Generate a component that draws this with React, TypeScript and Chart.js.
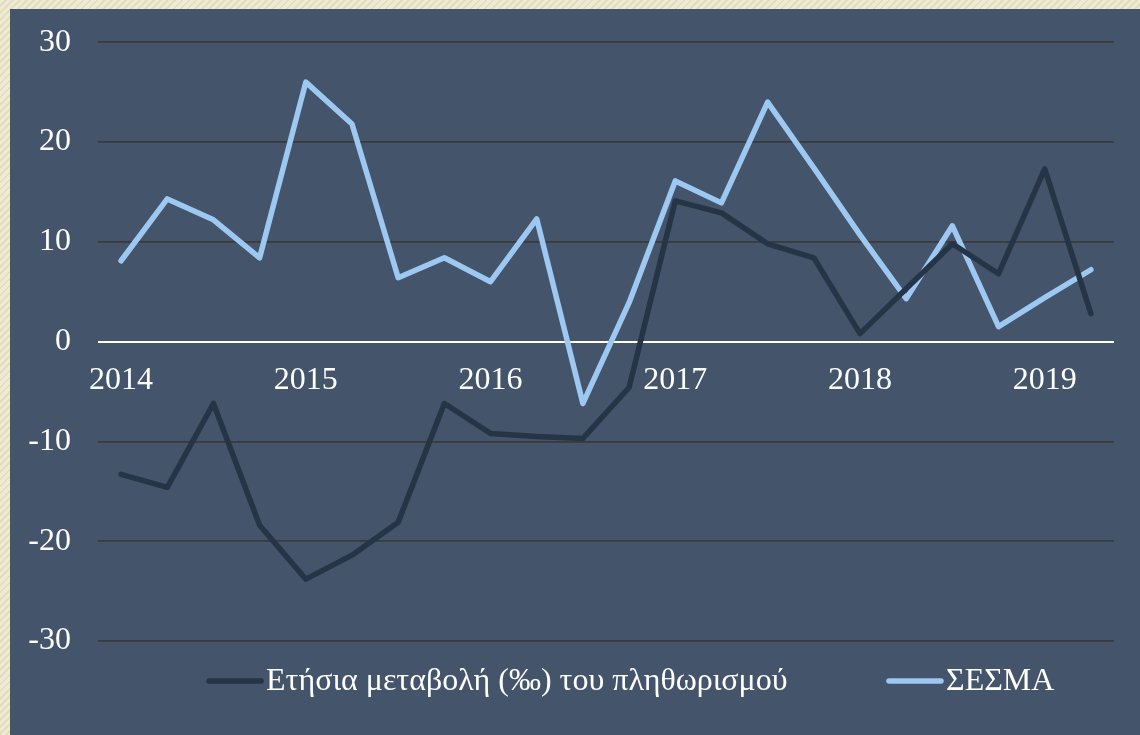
import React, { useEffect, useRef } from "react";
import { Chart, registerables } from "chart.js";

Chart.register(...registerables);

const quarters = [
  "2014 Q1", "2014 Q2", "2014 Q3", "2014 Q4",
  "2015 Q1", "2015 Q2", "2015 Q3", "2015 Q4",
  "2016 Q1", "2016 Q2", "2016 Q3", "2016 Q4",
  "2017 Q1", "2017 Q2", "2017 Q3", "2017 Q4",
  "2018 Q1", "2018 Q2", "2018 Q3", "2018 Q4",
  "2019 Q1", "2019 Q2",
];
const yearTickLabels = [
  "2014", "", "", "",
  "2015", "", "", "",
  "2016", "", "", "",
  "2017", "", "", "",
  "2018", "", "", "",
  "2019", "",
];
const inflationChange = [
  -13.3, -14.6, -6.2, -18.4, -23.8, -21.4, -18.1, -6.2, -9.2, -9.5, -9.7,
  -4.6, 14.1, 12.9, 9.8, 8.4, 0.8, 5.3, 9.8, 6.8, 17.3, 2.8,
];
const sesma = [
  8.1, 14.3, 12.2, 8.4, 26.0, 21.8, 6.4, 8.4, 6.0, 12.3, -6.2, 3.9, 16.1, 13.9,
  24.0, 17.4, 10.7, 4.3, 11.6, 1.5, 4.4, 7.2,
];
const yTicks = [-30, -20, -10, 0, 10, 20, 30];
const seriesNames = ["Ετήσια μεταβολή (‰) του πληθωρισμού", "ΣΕΣΜΑ"];

const DARK = "#253545";
const LIGHT = "#9DC8F2";
const PANEL = "#44546A";
const FONT = "'Liberation Serif', 'DejaVu Serif', serif";
const FONT_SIZE = 32;
const SHIFT = 13;

const legendPlugin = {
  id: "customLegend",
  afterDraw(chart: any) {
    const ctx = chart.ctx;
    const y = 672 + SHIFT;
    const items = [
      { x: 197, color: DARK, text: seriesNames[0] },
      { x: 877, color: LIGHT, text: seriesNames[1] },
    ];
    ctx.save();
    ctx.font = `${FONT_SIZE}px ${FONT}`;
    ctx.textBaseline = "middle";
    ctx.textAlign = "left";
    items.forEach((it) => {
      ctx.strokeStyle = it.color;
      ctx.lineWidth = 5.5;
      ctx.lineCap = "round";
      ctx.beginPath();
      ctx.moveTo(it.x + 2, y);
      ctx.lineTo(it.x + 54, y);
      ctx.stroke();
      ctx.fillStyle = "#ffffff";
      ctx.fillText(it.text, it.x + 59, y + 1);
    });
    ctx.restore();
  },
};

export default function App() {
  const ref = useRef<HTMLCanvasElement | null>(null);

  useEffect(() => {
    if (!ref.current) return;
    const chart = new Chart(ref.current, {
      type: "line",
      data: {
        labels: yearTickLabels,
        datasets: [
          {
            label: seriesNames[0],
            data: inflationChange,
            borderColor: DARK,
            backgroundColor: DARK,
            borderWidth: 5.5,
            pointRadius: 0,
            tension: 0,
            borderCapStyle: "round",
            borderJoinStyle: "round",
          },
          {
            label: seriesNames[1],
            data: sesma,
            borderColor: LIGHT,
            backgroundColor: LIGHT,
            borderWidth: 5.5,
            pointRadius: 0,
            tension: 0,
            borderCapStyle: "round",
            borderJoinStyle: "round",
          },
        ],
      },
      options: {
        animation: false,
        responsive: false,
        maintainAspectRatio: false,
        layout: { padding: { left: 0, right: 26, top: 19, bottom: 94 } },
        plugins: {
          legend: { display: false },
          tooltip: { enabled: false },
        },
        scales: {
          x: {
            type: "category",
            position: { y: 0 } as any,
            offset: true,
            grid: { display: false, drawTicks: false },
            border: { display: false },
            ticks: {
              autoSkip: false,
              maxRotation: 0,
              minRotation: 0,
              padding: 20,
              color: "#ffffff",
              font: { family: FONT, size: FONT_SIZE },
            },
          },
          y: {
            min: -30,
            max: 30,
            afterFit(scale: any) {
              scale.width = 88;
            },
            afterBuildTicks(scale: any) {
              scale.ticks = yTicks.map((v) => ({ value: v }));
            },
            grid: {
              drawTicks: false,
              lineWidth: (c: any) => (c.tick && c.tick.value === 0 ? 2 : 1.8),
              color: (c: any) =>
                c.tick && c.tick.value === 0 ? "#ffffff" : "#3a3a3a",
            },
            border: { display: false },
            ticks: {
              padding: 27,
              color: "#ffffff",
              font: { family: FONT, size: FONT_SIZE },
            },
          },
        },
      },
      plugins: [legendPlugin],
    });
    return () => chart.destroy();
  }, []);

  return (
    <div
      style={{
        position: "fixed",
        left: 0,
        top: 0,
        width: 1140,
        height: 735,
        background:
          "repeating-linear-gradient(135deg, #EFEBD3 0px, #EFEBD3 3px, #E3DDBF 3px, #E3DDBF 5px)",
      }}
    >
      <div
        style={{
          position: "absolute",
          left: 10,
          top: 9,
          width: 1130,
          height: 726,
          background: PANEL,
        }}
      />
      <canvas
        ref={ref}
        width={1130}
        height={726 + SHIFT}
        style={{
          position: "absolute",
          left: 10,
          top: 9 - SHIFT,
          display: "block",
          width: 1130,
          height: 726 + SHIFT,
        }}
      />
    </div>
  );
}
